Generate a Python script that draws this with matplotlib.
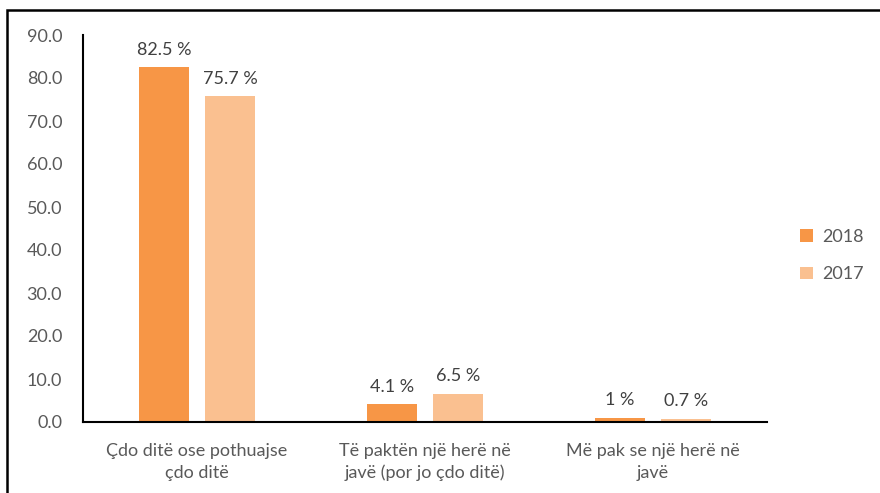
import matplotlib
matplotlib.use("Agg")
import matplotlib.pyplot as plt
from matplotlib.patches import Rectangle
import numpy as np

categories = ["Çdo ditë ose pothuajse\nçdo ditë", "Të paktën një herë në\njavë (por jo çdo ditë)", "Më pak se një herë në\njavë"]
series_names = ["2018", "2017"]
values_2018 = [82.5, 4.1, 1.0]
values_2017 = [75.7, 6.5, 0.7]
labels_2018 = ["82.5 %", "4.1 %", "1 %"]
labels_2017 = ["75.7 %", "6.5 %", "0.7 %"]
yticks = [0, 10, 20, 30, 40, 50, 60, 70, 80, 90]

plt.rcParams['font.family'] = ['Lato', 'DejaVu Sans']
gray = "#595959"
c18 = "#F79646"
c17 = "#FAC090"
fs = 13

fig = plt.figure(figsize=(8.8, 4.93), dpi=100)
ax = fig.add_axes([83/880, 1-422/493, (767-83)/880, (422-35)/493])

x = np.arange(len(categories))
w = 0.22
off = 0.145
b1 = ax.bar(x - off, values_2018, w, color=c18, label=series_names[0])
b2 = ax.bar(x + off, values_2017, w, color=c17, label=series_names[1])
for bars, labs in ((b1, labels_2018), (b2, labels_2017)):
    for r, l in zip(bars, labs):
        ax.annotate(l, (r.get_x() + r.get_width()/2, r.get_height()), xytext=(0, 7),
                    textcoords="offset points", ha="center", va="bottom",
                    fontsize=fs, color="#404040")

ax.set_xlim(-0.5, 2.5)
ax.set_ylim(0, 90)
ax.set_yticks(yticks)
ax.set_yticklabels([f"{v:.1f}" for v in yticks])
ax.set_xticks(x)
ax.set_xticklabels(categories)
ax.tick_params(axis='y', length=0, pad=15, labelsize=fs, labelcolor=gray)
ax.tick_params(axis='x', length=0, pad=15, labelsize=fs, labelcolor=gray)
for lab in ax.get_xticklabels():
    lab.set_linespacing(1.45)
ax.spines['top'].set_visible(False)
ax.spines['right'].set_visible(False)
ax.spines['left'].set_linewidth(1.5)
ax.spines['bottom'].set_linewidth(1.5)

ax.legend(loc="center left", bbox_to_anchor=(1.025, 0.43), frameon=False,
          fontsize=fs, labelcolor=gray, handlelength=0.7, handleheight=0.7,
          labelspacing=1.2, handletextpad=0.5)

top = 1 - 10/493
fig.patches.append(Rectangle((7/880, -0.2), 1.2, top + 0.2, transform=fig.transFigure,
                             fill=False, edgecolor="black", linewidth=1.8, zorder=10))

fig.savefig("out.png", dpi=100)
